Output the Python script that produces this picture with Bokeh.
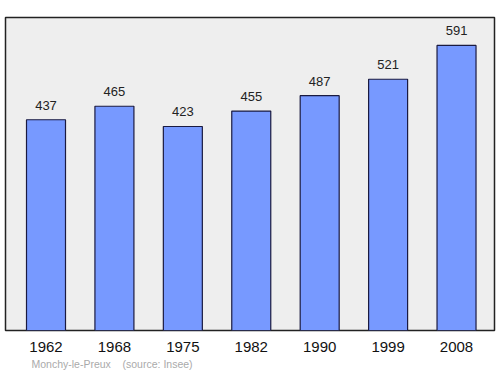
from bokeh.plotting import figure
from bokeh.models import ColumnDataSource, Range1d, FixedTicker, Title
from bokeh.embed import file_html
from bokeh.resources import INLINE

years = ["1962", "1968", "1975", "1982", "1990", "1999", "2008"]
population = [437, 465, 423, 455, 487, 521, 591]

xs = list(range(len(years)))
src = ColumnDataSource(dict(x=xs, top=population, label=[str(v) for v in population]))

p = figure(width=500, height=374, output_backend="svg", toolbar_location=None,
           x_range=Range1d(-0.592, 6.555), y_range=Range1d(0, 649))
p.min_border_left = 5
p.min_border_right = 6
p.min_border_top = 17
p.min_border_bottom = 44
p.border_fill_color = "white"
p.outline_line_color = "#222222"
p.outline_line_width = 1.5
p.background_fill_color = "#eeeeee"
p.grid.visible = False
p.yaxis.visible = False

p.vbar(x="x", top="top", bottom=0, width=0.57, source=src,
       fill_color="#7799ff", line_color="#1a1a40", line_width=1.2)

p.text(x="x", y="top", text="label", source=src, text_align="center",
       text_baseline="bottom", y_offset=-10, text_font_size="13px",
       text_color="#222222", text_font={"value": "Liberation Sans"})

ax = p.xaxis[0]
ax.ticker = FixedTicker(ticks=xs)
ax.major_label_overrides = {i: y for i, y in enumerate(years)}
ax.major_tick_line_color = None
ax.minor_tick_line_color = None
ax.axis_line_color = None
ax.major_label_standoff = 5
ax.major_label_text_font = "Liberation Sans"
ax.major_label_text_font_size = "15px"
ax.major_label_text_color = "#111111"

t = Title(text="Monchy-le-Preux\u00a0\u00a0\u00a0\u00a0(source: Insee)", align="left", offset=26,
          text_font="Liberation Sans", text_font_size="10.5px", text_color="#aaaaaa",
          text_font_style="normal", standoff=2)
p.add_layout(t, "below")

open("out.html", "w").write(file_html(p, INLINE))
